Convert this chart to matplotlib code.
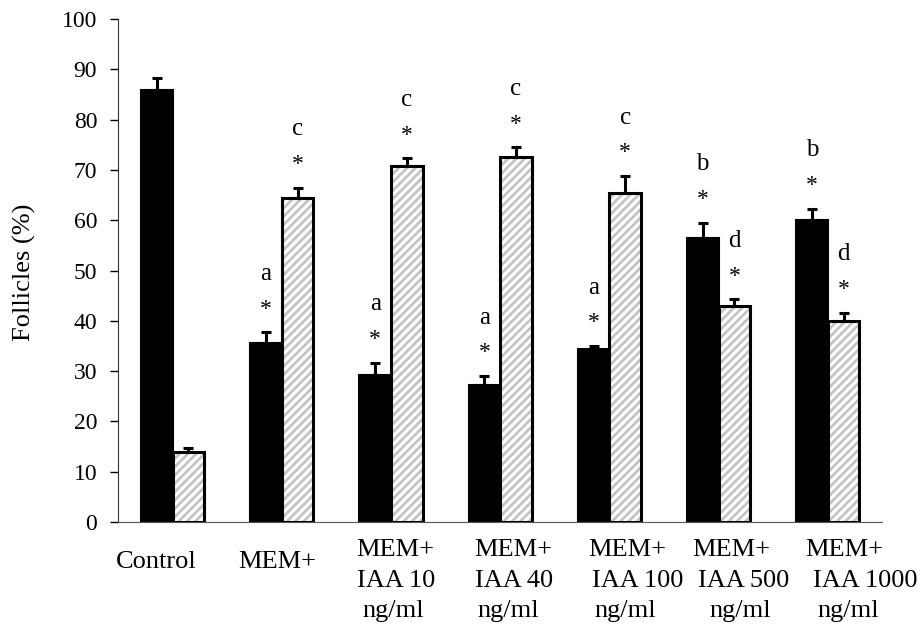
import numpy as np
import matplotlib
matplotlib.use("Agg")
import matplotlib.pyplot as plt

plt.rcParams["font.family"] = ["Liberation Serif", "DejaVu Serif"]
plt.rcParams["hatch.linewidth"] = 2.0

# ── data ─────────────────────────────────────────────────────────────────────
groups = ["Control", "MEM+", "MEM+\nIAA 10\nng/ml", "MEM+\nIAA 40\nng/ml",
          "MEM+\nIAA 100\nng/ml", "MEM+\nIAA 500\nng/ml", "MEM+\nIAA 1000\nng/ml"]
black_vals = [85.8, 35.5, 29.2, 27.2, 34.4, 56.5, 60.1]
black_err = [2.5, 2.2, 2.5, 1.8, 0.6, 3.0, 2.2]
hatch_vals = [14.0, 64.5, 70.7, 72.6, 65.4, 43.0, 39.9]
hatch_err = [0.8, 2.0, 1.6, 1.9, 3.4, 1.3, 1.7]
black_letters = ["", "a", "a", "a", "a", "b", "b"]
hatch_letters = ["", "c", "c", "c", "c", "d", "d"]
black_star = [False, True, True, True, True, True, True]
hatch_star = [False, True, True, True, True, True, True]

# label layout: horizontal shift of each text line (px) off the group centre
line_dx = [[-16], [-5], [4, 5, 2], [13, 14, 8], [18, 28, 16], [13, 25, 22], [16, 37, 21]]

fig = plt.figure(figsize=(9.22, 6.24), dpi=100)
ax = fig.add_axes([0.128, 0.1635, 0.829, 0.806])

x = np.arange(len(groups))
w = 0.29
zeros = [0] * len(groups)
ekw = dict(ecolor="black", elinewidth=2.2, capsize=3.8, capthick=2.2)
ax.bar(x - w / 2, black_vals, w, color="black", edgecolor="black", lw=1.5,
       yerr=[zeros, black_err], error_kw=ekw)
# hatch drawn in grey, then a black outline on top
ax.bar(x + w / 2, hatch_vals, w, color="white", edgecolor="#c4c4c4", lw=0, hatch="////",
       yerr=[zeros, hatch_err], error_kw=ekw)
ax.bar(x + w / 2, hatch_vals, w, fill=False, edgecolor="black", lw=2.2)

def annotate(xs, vals, errs, stars, letters):
    for xi, v, e, s, l in zip(xs, vals, errs, stars, letters):
        top = v + e
        if s:
            ax.text(xi, top + 4.6, "*", ha="center", va="center", fontsize=17)
        if l:
            ax.text(xi, top + 11.6, l, ha="center", va="center", fontsize=18)

annotate(x - w / 2, black_vals, black_err, black_star, black_letters)
annotate(x + w / 2, hatch_vals, hatch_err, hatch_star, hatch_letters)

ax.set_xlim(-0.5, len(groups) - 0.5)
ax.set_ylim(0, 100)
ax.set_yticks(np.arange(0, 101, 10))
ax.tick_params(axis="y", labelsize=17, length=6, width=1, direction="out", pad=9)
ax.set_xticks(x)
ax.set_xticklabels([])
ax.tick_params(axis="x", length=0)

# category labels, one text per line, baselines in px below the axis
for i, g in enumerate(groups):
    lines = g.split("\n")
    base = [-46] if len(lines) == 1 else [-34, -65, -95]
    for j, line in enumerate(lines):
        ax.annotate(line, xy=(x[i], 0), xycoords=("data", "axes fraction"),
                    xytext=(line_dx[i][j], base[j]), textcoords="offset pixels",
                    ha="center", va="baseline", fontsize=19)

fig.text(24 / 922, 1 - 272 / 624, "Follicles (%)", rotation=90,
         ha="center", va="center", fontsize=19)
for s in ["top", "right"]:
    ax.spines[s].set_visible(False)
ax.spines["bottom"].set_color("#555555")
ax.spines["left"].set_color("#333333")

fig.savefig("out.png", dpi=100)
